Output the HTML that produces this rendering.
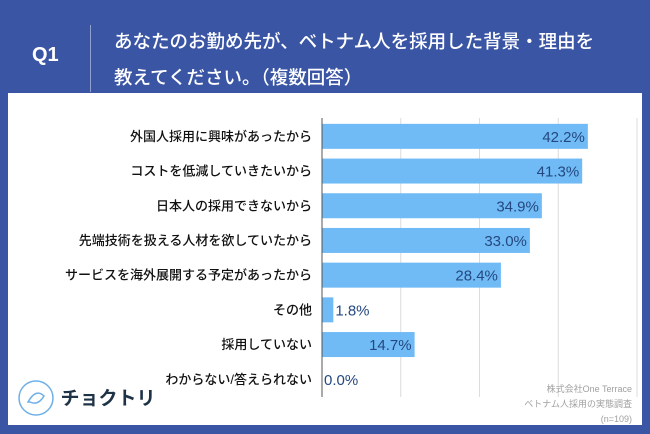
<!DOCTYPE html>
<html><head><meta charset="utf-8">
<style>
body{margin:0;width:650px;height:434px;background:#3a55a4;overflow:hidden;font-family:"Liberation Sans","Noto Sans CJK JP",sans-serif;position:relative}
.hdr{position:absolute;color:#fff}
</style></head><body>
<div class="hdr" style="left:32px;top:44px;font-size:20px;font-weight:bold;">Q1</div>
<div style="position:absolute;left:90px;top:25px;width:1px;height:67px;background:#8fa0d0"></div>
<div class="hdr" style="left:114px;top:24px;font-size:18.5px;line-height:36px;font-weight:500;">あなたのお勤め先が、ベトナム人を採用した背景・理由を<br>教えてください。（複数回答）</div>
<div style="position:absolute;left:8px;top:93px;width:634px;height:332px;background:#fff"></div>
<svg id="chart" width="650" height="434" style="position:absolute;left:0;top:0"></svg>
<div style="position:absolute;right:18px;top:382px;text-align:right;color:#a0a0a0;font-size:9px;line-height:15px;">株式会社One Terrace<br>ベトナム人採用の実態調査<br>(n=109)</div>
<div style="position:absolute;left:16px;top:372px;">
<svg width="40" height="50" style="vertical-align:middle"><circle cx="20" cy="26" r="17" fill="none" stroke="#6fb0e8" stroke-width="1.5"/><path d="M12 30 q8 -14 16 -6 q-6 10 -14 6z" fill="none" stroke="#6fb0e8" stroke-width="1.5"/></svg>
<span style="font-size:19px;font-weight:bold;color:#1f3346;vertical-align:middle">チョクトリ</span></div>
<script>
const categories=["外国人採用に興味があったから","コストを低減していきたいから","日本人の採用できないから","先端技術を扱える人材を欲していたから","サービスを海外展開する予定があったから","その他","採用していない","わからない/答えられない"];
const values=[42.2,41.3,34.9,33.0,28.4,1.8,14.7,0.0];
const gridTicks=[12.5,25,37.5,50];
const svg=document.getElementById('chart');
const NS='http://www.w3.org/2000/svg';
const x0=322,xMax=50,plotW=315,rowTop=119,rowH=34.7,barH=25;
const xs=v=>x0+v/xMax*plotW;
function mk(t,a){const e=document.createElementNS(NS,t);for(const k in a)e.setAttribute(k,a[k]);svg.appendChild(e);return e;}
gridTicks.forEach(t=>{const g=mk('line',{x1:xs(t),x2:xs(t),y1:118,y2:397,stroke:'#dcdcdc','stroke-width':1});

});
categories.forEach((c,i)=>{
 const cy=rowTop+rowH*i+rowH/2;
 const b=mk('rect',{x:x0,y:cy-barH/2,width:Math.max(0,xs(values[i])-x0),height:barH,fill:'#70bbf6'});
 
 
 const l=mk('text',{x:312,y:cy+4.5,'text-anchor':'end','font-size':13,'font-weight':'500',fill:'#111'});l.textContent=c;
 
 
 const inside=values[i]>10;
 const v=mk('text',{x:inside?xs(values[i])-3:xs(values[i])+2,y:cy+5.5,'text-anchor':inside?'end':'start','font-size':15,fill:'#24487f'});
 v.textContent=values[i].toFixed(1)+'%';
 
 
});
const ax=mk('line',{x1:x0,x2:x0,y1:118,y2:397,stroke:'#555','stroke-width':1});


</script>
</body></html>
